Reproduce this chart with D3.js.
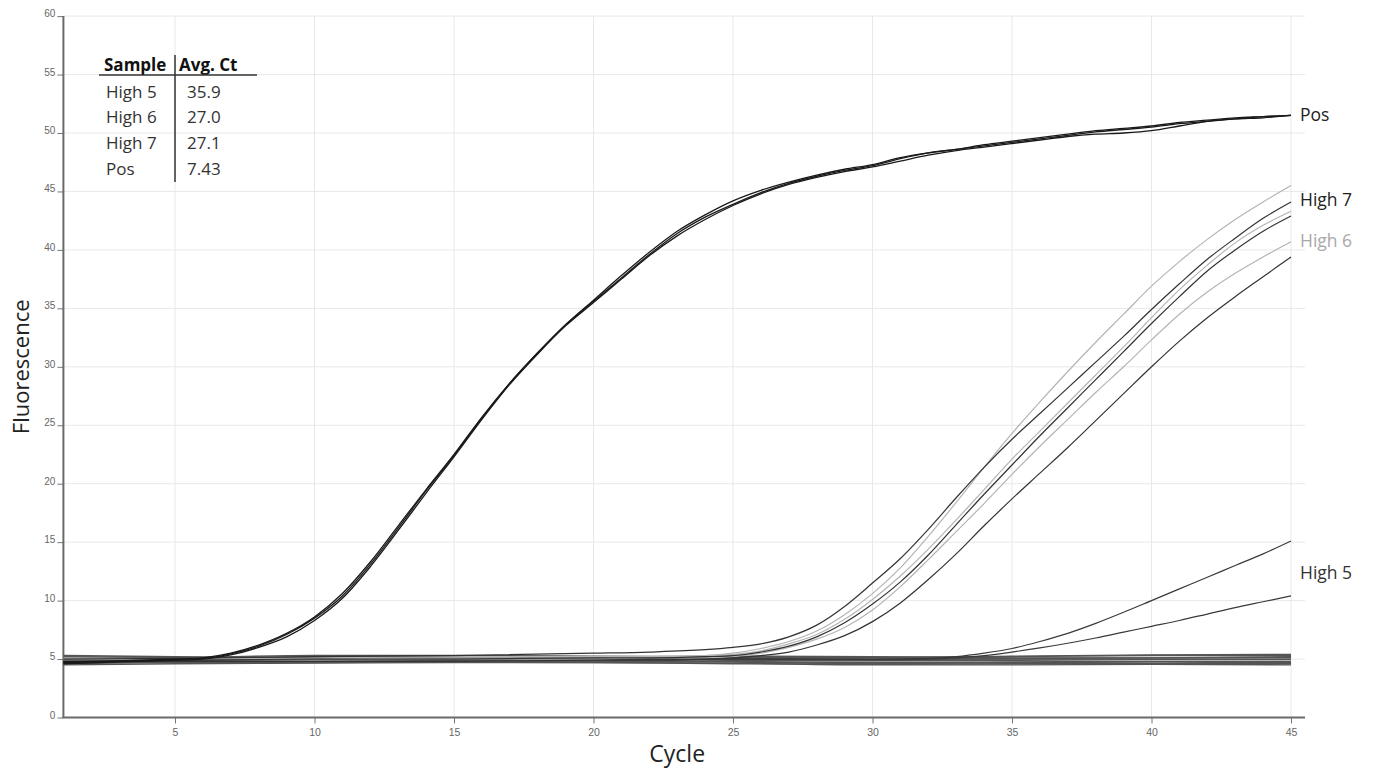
<!DOCTYPE html>
<html>
<head>
<meta charset="utf-8">
<script src="https://cdn.jsdelivr.net/npm/d3@7"></script>
<style>
  body { margin: 0; background: #fff; }
  svg { display: block; font-family: "Open Sans", "Noto Sans", sans-serif; }
</style>
</head>
<body>
<div id="chart"></div>
<script>
// amplification curves, values (Fluorescence vs Cycle)

const yTicks = [0, 5, 10, 15, 20, 25, 30, 35, 40, 45, 50, 55, 60];
const xTicks = [5, 10, 15, 20, 25, 30, 35, 40, 45];

// positive control, 3 replicates
const posCycles = [1, 3, 5, 6, 7, 8, 9, 10, 11, 12, 13, 14, 15, 16, 17, 18, 19, 20, 21, 22, 23, 24, 25,
  26, 27, 28, 29, 30, 31, 32, 33, 34, 35, 36, 37, 38, 39, 40, 41, 42, 43, 44, 45];
const pos1 = [4.7, 4.8, 4.95, 5.1, 5.5, 6.2, 7.2, 8.6, 10.6, 13.3, 16.4, 19.5, 22.5, 25.7, 28.6, 31.2, 33.6, 35.7, 37.8, 39.8, 41.6, 43.0, 44.2,
  45.1, 45.8, 46.4, 46.9, 47.3, 47.9, 48.3, 48.6, 48.9, 49.2, 49.5, 49.8, 50.1, 50.3, 50.5, 50.8, 51.0, 51.2, 51.4, 51.5];
const pos2 = [4.6, 4.75, 4.9, 5.0, 5.35, 6.0, 6.9, 8.3, 10.2, 12.9, 16.0, 19.2, 22.3, 25.5, 28.5, 31.1, 33.5, 35.5, 37.5, 39.5, 41.2, 42.6, 43.8,
  44.8, 45.6, 46.2, 46.7, 47.1, 47.6, 48.1, 48.5, 48.8, 49.1, 49.4, 49.7, 49.9, 50.0, 50.2, 50.6, 51.0, 51.2, 51.3, 51.5];
const pos3 = [4.8, 4.85, 5.0, 5.05, 5.45, 6.1, 7.1, 8.5, 10.4, 13.1, 16.2, 19.4, 22.4, 25.6, 28.6, 31.2, 33.6, 35.6, 37.6, 39.6, 41.4, 42.8, 43.9,
  44.9, 45.7, 46.3, 46.8, 47.2, 47.8, 48.3, 48.6, 49.0, 49.3, 49.6, 49.9, 50.2, 50.4, 50.6, 50.9, 51.1, 51.3, 51.4, 51.5];

// High 6 (grey) and High 7 (dark) replicates
const ampCycles = [1, 5, 10, 15, 20, 22, 24, 25, 26, 27, 28, 29, 30, 31, 32, 33, 34, 35, 36, 37, 38, 39, 40, 41, 42, 43, 44, 45];
const high7a = [5.0, 5.05, 5.2, 5.3, 5.5, 5.6, 5.8, 6.0, 6.3, 6.9, 7.9, 9.5, 11.5, 13.6, 16.1, 18.8, 21.4, 23.8, 26.0, 28.2, 30.4, 32.6, 34.9, 37.1, 39.2, 41.0, 42.7, 44.1];
const high7b = [4.8, 4.9, 5.0, 5.0, 5.1, 5.1, 5.2, 5.3, 5.6, 6.1, 6.9, 8.1, 9.7, 11.6, 13.9, 16.5, 19.1, 21.6, 24.1, 26.5, 28.9, 31.3, 33.7, 36.0, 38.2, 40.0, 41.6, 42.9];
const high7c = [4.7, 4.8, 4.8, 4.8, 4.9, 4.9, 5.0, 5.1, 5.3, 5.6, 6.2, 7.0, 8.2, 9.8, 11.8, 14.0, 16.4, 18.7, 20.9, 23.1, 25.4, 27.7, 30.0, 32.2, 34.2, 36.0, 37.7, 39.4];
const high6a = [4.9, 5.0, 5.0, 5.1, 5.1, 5.2, 5.3, 5.5, 5.9, 6.5, 7.4, 8.8, 10.6, 12.8, 15.5, 18.4, 21.4, 24.3, 27.0, 29.6, 32.1, 34.5, 36.9, 39.0, 40.9, 42.6, 44.1, 45.5];
const high6b = [5.1, 5.0, 5.1, 5.2, 5.2, 5.2, 5.3, 5.4, 5.7, 6.3, 7.1, 8.4, 10.1, 12.1, 14.4, 16.9, 19.5, 22.1, 24.5, 26.9, 29.3, 31.7, 34.2, 36.6, 38.7, 40.6, 42.1, 43.3];
const high6c = [5.0, 5.0, 4.9, 5.0, 5.0, 5.1, 5.1, 5.2, 5.5, 6.0, 6.7, 7.7, 9.2, 11.2, 13.5, 15.9, 18.3, 20.8, 23.2, 25.5, 27.8, 30.0, 32.3, 34.5, 36.4, 38.0, 39.4, 40.7];

// High 5 replicates
const high5Cycles = [1, 5, 10, 15, 20, 25, 30, 32, 33, 34, 35, 36, 37, 38, 39, 40, 41, 42, 43, 44, 45];
const high5a = [4.9, 5.0, 5.0, 5.1, 5.0, 5.0, 5.0, 5.05, 5.2, 5.5, 5.9, 6.5, 7.2, 8.05, 9.0, 10.0, 11.0, 12.0, 13.0, 14.0, 15.1];
const high5b = [5.0, 5.0, 5.1, 5.0, 5.0, 5.0, 4.95, 5.0, 5.1, 5.3, 5.6, 5.95, 6.35, 6.8, 7.3, 7.8, 8.3, 8.85, 9.4, 9.9, 10.4];

// flat negatives forming the baseline band
const negCycles = [1, 5, 10, 15, 20, 25, 30, 35, 40, 45];
const neg1 = [4.6, 4.7, 4.7, 4.75, 4.7, 4.6, 4.55, 4.6, 4.6, 4.6];
const neg2 = [4.8, 4.85, 4.9, 4.9, 4.85, 4.8, 4.7, 4.75, 4.8, 4.8];
const neg3 = [5.0, 5.0, 5.05, 5.1, 5.05, 5.0, 4.95, 5.0, 5.0, 5.0];
const neg4 = [5.2, 5.15, 5.3, 5.3, 5.25, 5.2, 5.15, 5.2, 5.3, 5.3];
const neg5 = [5.1, 5.0, 5.2, 5.25, 5.2, 5.15, 5.1, 5.25, 5.35, 5.4];
const neg6 = [4.7, 4.8, 4.9, 4.85, 4.8, 4.75, 4.6, 4.7, 4.75, 4.7];
const neg7 = [4.9, 4.95, 5.0, 5.0, 4.95, 4.9, 4.85, 4.9, 4.95, 4.95];
const neg8 = [5.3, 5.2, 5.1, 5.1, 5.15, 5.25, 5.2, 5.1, 5.1, 5.15];
const neg9 = [4.5, 4.6, 4.65, 4.7, 4.7, 4.65, 4.5, 4.5, 4.55, 4.5];
const neg10 = [5.05, 5.1, 5.15, 5.2, 5.1, 5.05, 5.0, 5.05, 5.1, 5.2];

// inset table
const tableSamples = ['High 5', 'High 6', 'High 7', 'Pos'];
const tableCt = ['35.9', '27.0', '27.1', '7.43'];

// end labels
const endLabels = [
  {text: 'Pos', value: 51.5, color: '#222'},
  {text: 'High 7', value: 44.3, color: '#222'},
  {text: 'High 6', value: 40.8, color: '#a8a8a8'},
  {text: 'High 5', value: 12.4, color: '#333'}
];

const W = 1373, H = 773;
const svg = d3.select('#chart').append('svg')
  .attr('width', W)
  .attr('height', H);

const x = d3.scaleLinear().domain([1, 45]).range([63.4, 1291]);
const y = d3.scaleLinear().domain([0, 60]).range([717.5, 16.1]);
const xEnd = 1305;

// grid
svg.append('g')
  .selectAll('line')
  .data(yTicks.slice(1))
  .join('line')
  .attr('x1', x(1)).attr('x2', xEnd)
  .attr('y1', d => y(d)).attr('y2', d => y(d))
  .attr('stroke', '#e8e8e8')
  .attr('stroke-width', 1);

svg.append('g')
  .selectAll('line')
  .data(xTicks)
  .join('line')
  .attr('x1', d => x(d)).attr('x2', d => x(d))
  .attr('y1', y(60)).attr('y2', y(0))
  .attr('stroke', '#e8e8e8')
  .attr('stroke-width', 1);

// axes
const yAxis = svg.append('g')
  .attr('transform', `translate(${x(1)},0)`)
  .call(d3.axisLeft(y).tickValues(yTicks).tickSize(6).tickPadding(2));
yAxis.select('.domain').remove();
yAxis.selectAll('line').attr('stroke', '#777');
yAxis.selectAll('text')
  .attr('dy', '0.05em')
  .attr('fill', '#666')
  .style('font-size', '10px');

const xAxis = svg.append('g')
  .attr('transform', `translate(0,${y(0)})`)
  .call(d3.axisBottom(x).tickValues(xTicks).tickSize(6).tickPadding(5));
xAxis.select('.domain').remove();
xAxis.selectAll('line').attr('stroke', '#777');
xAxis.selectAll('text')
  .attr('fill', '#666')
  .style('font-size', '10.5px');

svg.append('line')
  .attr('x1', x(1)).attr('x2', x(1))
  .attr('y1', y(60)).attr('y2', y(0))
  .attr('stroke', '#6a6a6a').attr('stroke-width', 2);
svg.append('line')
  .attr('x1', x(1) - 1).attr('x2', xEnd)
  .attr('y1', y(0)).attr('y2', y(0))
  .attr('stroke', '#6a6a6a').attr('stroke-width', 2);

// curves
const line = d3.line()
  .x(d => x(d[0]))
  .y(d => y(d[1]))
  .curve(d3.curveMonotoneX);

function drawCurve(cycles, values, color, width) {
  svg.append('path')
    .datum(cycles.map((c, i) => [c, values[i]]))
    .attr('fill', 'none')
    .attr('stroke', color)
    .attr('stroke-width', width)
    .attr('d', line);
}

[neg1, neg2, neg3, neg4, neg5, neg6, neg7, neg8, neg9, neg10]
  .forEach(v => drawCurve(negCycles, v, '#555', 1.4));

drawCurve(high5Cycles, high5a, '#3a3a3a', 1.2);
drawCurve(high5Cycles, high5b, '#3a3a3a', 1.2);

[high6a, high6b, high6c].forEach(v => drawCurve(ampCycles, v, '#b4b4b4', 1.2));
[high7a, high7b, high7c].forEach(v => drawCurve(ampCycles, v, '#333', 1.2));

[pos1, pos2, pos3].forEach(v => drawCurve(posCycles, v, '#1a1a1a', 1.3));

// end labels
svg.append('g')
  .selectAll('text')
  .data(endLabels)
  .join('text')
  .attr('x', 1300)
  .attr('y', d => y(d.value) + 6)
  .attr('fill', d => d.color)
  .style('font-size', '17.5px')
  .text(d => d.text);

// axis titles
svg.append('text')
  .attr('transform', `translate(29,${(y(0) + y(60)) / 2}) rotate(-90)`)
  .attr('text-anchor', 'middle')
  .attr('fill', '#222')
  .style('font-size', '22px')
  .text('Fluorescence');

svg.append('text')
  .attr('x', (x(1) + x(45)) / 2)
  .attr('y', 762)
  .attr('text-anchor', 'middle')
  .attr('fill', '#222')
  .style('font-size', '23px')
  .text('Cycle');

// inset table
const table = svg.append('g');
table.append('text')
  .attr('x', 104).attr('y', 71)
  .attr('fill', '#111')
  .style('font-size', '17px').style('font-weight', 'bold')
  .text('Sample');
table.append('text')
  .attr('x', 179).attr('y', 71)
  .attr('fill', '#111')
  .style('font-size', '17px').style('font-weight', 'bold')
  .text('Avg. Ct');
table.append('line')
  .attr('x1', 99).attr('x2', 257)
  .attr('y1', 75).attr('y2', 75)
  .attr('stroke', '#333').attr('stroke-width', 1.5);
table.append('line')
  .attr('x1', 175).attr('x2', 175)
  .attr('y1', 55).attr('y2', 182)
  .attr('stroke', '#333').attr('stroke-width', 1.5);
table.selectAll('.samp')
  .data(tableSamples)
  .join('text')
  .attr('class', 'samp')
  .attr('x', 106)
  .attr('y', (d, i) => 97.5 + i * 25.8)
  .attr('fill', '#333')
  .style('font-size', '17px')
  .text(d => d);
table.selectAll('.ct')
  .data(tableCt)
  .join('text')
  .attr('class', 'ct')
  .attr('x', 187)
  .attr('y', (d, i) => 97.5 + i * 25.8)
  .attr('fill', '#333')
  .style('font-size', '17px')
  .text(d => d);
</script>
</body>
</html>
